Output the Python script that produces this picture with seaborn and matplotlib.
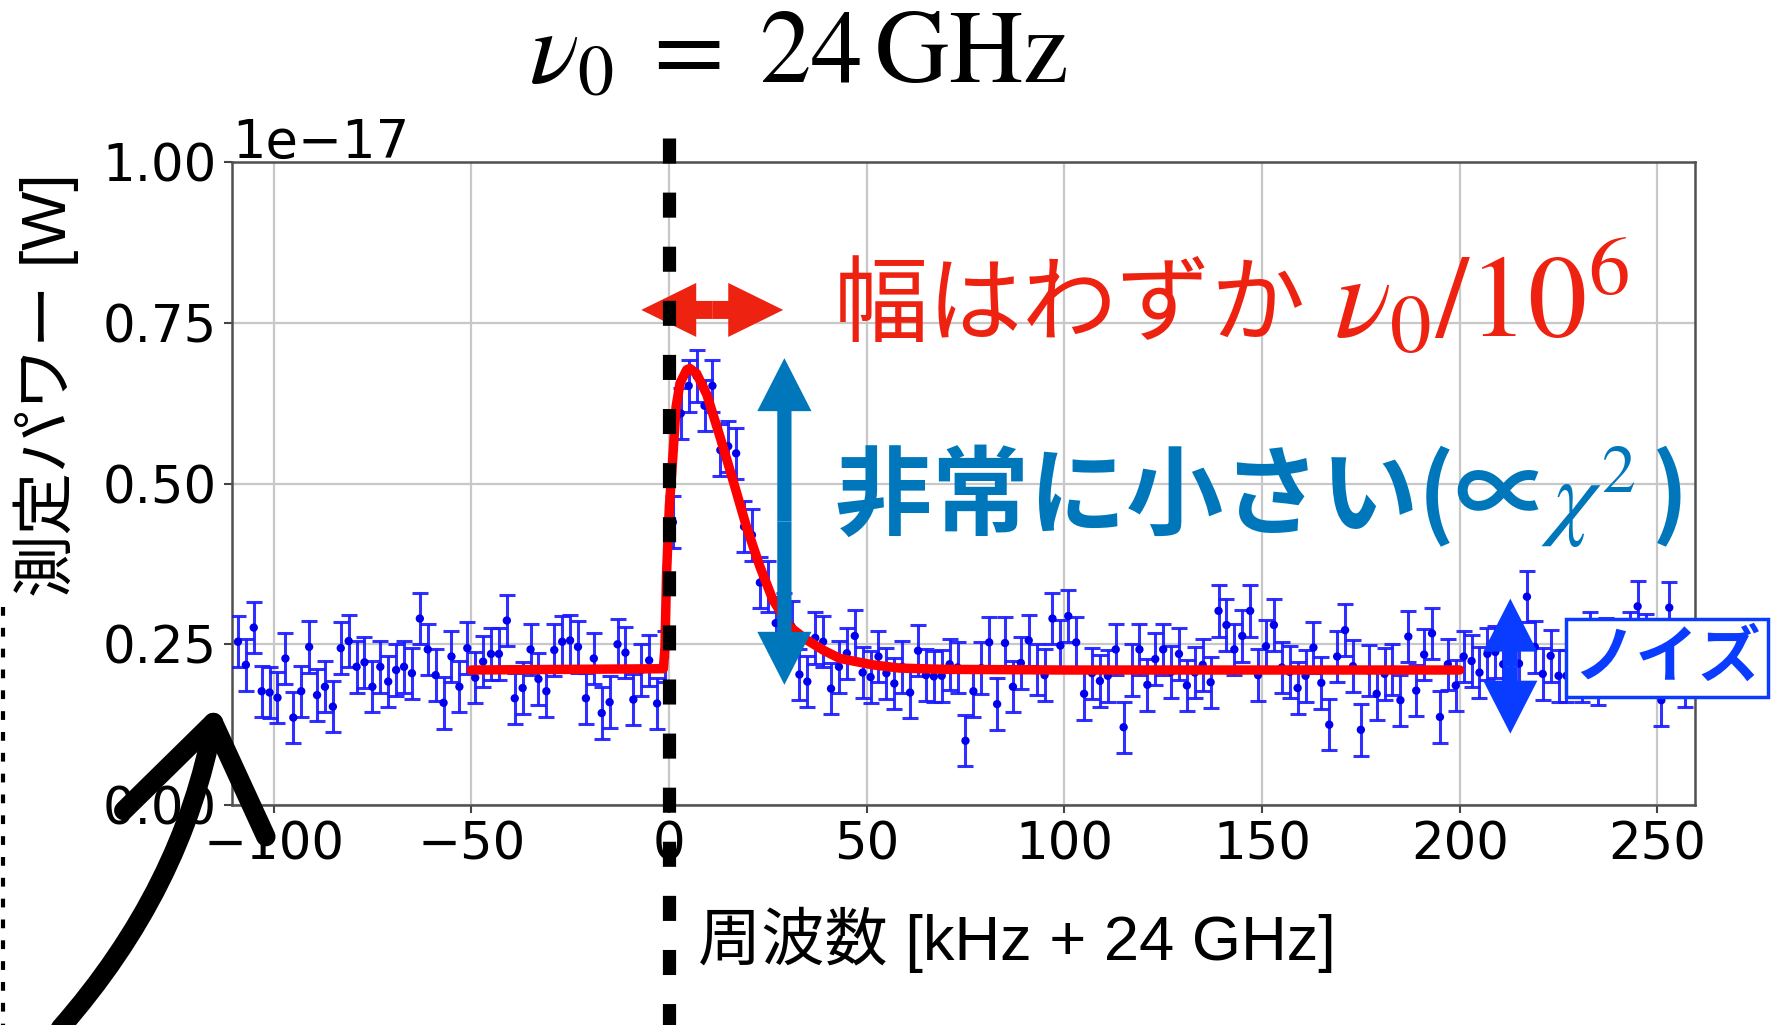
import numpy as np
import pandas as pd
import matplotlib
matplotlib.use("Agg")
import matplotlib.pyplot as plt
import seaborn as sns
from matplotlib.lines import Line2D
from matplotlib.patches import FancyArrowPatch
from matplotlib.transforms import blended_transform_factory

# ---------------- data (power in units of 1e-17 W) ----------------
freq_khz = np.arange(-109, 258, 2)  # measurement grid, kHz offset from 24 GHz

power_left = [0.254, 0.218, 0.276, 0.177, 0.175, 0.167, 0.228, 0.136, 0.177, 0.246,
              0.171, 0.184, 0.153, 0.244, 0.255, 0.215, 0.222, 0.184, 0.215, 0.192,
              0.210, 0.215, 0.205, 0.290, 0.242, 0.202, 0.159, 0.231, 0.184, 0.244,
              0.198, 0.223, 0.235, 0.235, 0.287, 0.166, 0.182, 0.242, 0.196, 0.177,
              0.241, 0.254, 0.256, 0.246, 0.166, 0.228, 0.143, 0.160, 0.250, 0.237,
              0.164, 0.210, 0.225, 0.158, 0.231]
power_peak = [0.440, 0.609, 0.652, 0.667, 0.621, 0.652, 0.552, 0.558, 0.547, 0.433,
              0.420, 0.346, 0.340, 0.283, 0.290, 0.278, 0.203, 0.192, 0.260, 0.254,
              0.181, 0.215, 0.236, 0.263, 0.206, 0.199, 0.231, 0.205, 0.189]
power_mid = [0.215, 0.175, 0.240, 0.202, 0.200, 0.201, 0.219, 0.214, 0.100, 0.177,
             0.213, 0.253, 0.157, 0.252, 0.184, 0.221, 0.256, 0.211, 0.202, 0.290,
             0.248, 0.294, 0.253, 0.173, 0.205, 0.193, 0.201, 0.242, 0.121, 0.210,
             0.242, 0.187, 0.227, 0.242]
power_mid2 = [0.207, 0.235, 0.186, 0.206, 0.218, 0.191, 0.302, 0.280, 0.242, 0.263,
              0.302, 0.202, 0.247, 0.280, 0.214, 0.207, 0.182, 0.201, 0.245, 0.190,
              0.125, 0.231, 0.272, 0.216, 0.117, 0.209, 0.173, 0.204, 0.211, 0.163,
              0.262, 0.178, 0.234, 0.267]
power_right = [0.137, 0.219, 0.186, 0.231, 0.224, 0.206, 0.235, 0.238, 0.219, 0.210,
               0.220, 0.324, 0.246, 0.204, 0.232, 0.201, 0.201, 0.210, 0.200, 0.260,
               0.196, 0.251, 0.210, 0.220, 0.260, 0.309, 0.257, 0.248, 0.163, 0.307,
               0.210, 0.193]
power_err = 0.04

fit_x = [-50, -1.4, -1.0, -0.6, 0.1, 0.7, 1.1, 1.8, 2.8, 4.5, 5.3, 7.0, 9.6, 12.9,
         16.2, 19.6, 23.0, 26.3, 30.6, 34.8, 39.0, 43.2, 51.6, 58.3, 70, 100, 200]
fit_y = [0.210, 0.212, 0.246, 0.360, 0.464, 0.516, 0.552, 0.619, 0.656, 0.677, 0.679,
         0.671, 0.638, 0.573, 0.505, 0.433, 0.371, 0.319, 0.277, 0.257, 0.241, 0.228,
         0.218, 0.213, 0.211, 0.210, 0.210]

x_ticks = [-100, -50, 0, 50, 100, 150, 200, 250]
y_ticks = [0.0, 0.25, 0.50, 0.75, 1.00]
SCALE = 1e-17

RED = "#EE2211"
STEEL = "#0077BB"
NOISE = "#0A3CFF"

# ---------------- style ----------------
sns.set_theme(style="whitegrid")
plt.rcParams["font.family"] = ["DejaVu Sans", "Noto Sans CJK JP"]
plt.rcParams["mathtext.fontset"] = "stix"
plt.rcParams["axes.unicode_minus"] = True

fig = plt.figure(figsize=(17.78, 10.25), dpi=100)
ax = fig.add_axes([0.1305, 0.2146, 0.8228, 0.6273])

power = np.array(power_left + power_peak + power_mid + power_mid2 + power_right)
df = pd.DataFrame({"freq": freq_khz, "power": power * SCALE})

ax.errorbar(df["freq"], df["power"], yerr=power_err * SCALE, fmt="none",
            ecolor="#1A1AFF", elinewidth=2.2, capsize=5.5, capthick=2.2,
            alpha=0.9, zorder=3)
sns.scatterplot(data=df, x="freq", y="power", color="#0000EE", s=36,
                edgecolor="none", zorder=4, ax=ax)
sns.lineplot(x=np.array(fit_x), y=np.array(fit_y) * SCALE, color="red",
             linewidth=6.8, zorder=5, ax=ax)

ax.set_xlim(-110.5, 259.5)
ax.set_ylim(0, 1.0 * SCALE)
ax.set_xticks(x_ticks)
ax.set_yticks(np.array(y_ticks) * SCALE)
ax.set_xlabel("")
ax.set_ylabel("")
ax.tick_params(axis="both", labelsize=37, length=6, width=1.5, color="#444444",
               pad=5, left=True, bottom=True, labelcolor="black")
ax.yaxis.get_offset_text().set_fontsize(38)
ax.grid(True, color="#C8C8C8", linewidth=1.6)
for sp in ax.spines.values():
    sp.set_visible(True)
    sp.set_color("#505050")
    sp.set_linewidth(1.8)

# ---------------- annotations ----------------
# vertical dashed line at nu0
blend = blended_transform_factory(ax.transData, fig.transFigure)
ax.plot([0, 0], [0.8654, 0.0], transform=blend, clip_on=False, color="black",
        linewidth=9.5, linestyle=(0, (1.9, 2.2)), zorder=10)

# red width arrow
ax.arrow(10.95, 0.770 * SCALE, 17.95, 0, width=0.028 * SCALE, head_width=0.084 * SCALE,
         head_length=13.9, length_includes_head=True, color=RED, lw=0, zorder=8)
ax.arrow(10.95, 0.770 * SCALE, -17.95, 0, width=0.028 * SCALE, head_width=0.084 * SCALE,
         head_length=13.9, length_includes_head=True, color=RED, lw=0, zorder=8)

# steel-blue height arrow
ax.arrow(29.2, 0.441 * SCALE, 0, 0.254 * SCALE, width=3.6, head_width=13.7,
         head_length=0.0824 * SCALE, length_includes_head=True, color=STEEL, lw=0, zorder=8)
ax.arrow(29.2, 0.441 * SCALE, 0, -0.254 * SCALE, width=3.6, head_width=13.7,
         head_length=0.0824 * SCALE, length_includes_head=True, color=STEEL, lw=0, zorder=8)

# noise arrow
ax.arrow(212.8, 0.216 * SCALE, 0, 0.105 * SCALE, width=3.8, head_width=13.7,
         head_length=0.0824 * SCALE, length_includes_head=True, color=NOISE, lw=0, zorder=8)
ax.arrow(212.8, 0.216 * SCALE, 0, -0.105 * SCALE, width=3.8, head_width=13.7,
         head_length=0.0824 * SCALE, length_includes_head=True, color=NOISE, lw=0, zorder=8)

# texts
fig.text(0.449, 0.919, r"$\nu_0\;=\;24\,\mathrm{GHz}$", fontsize=74, ha="center",
         va="baseline", color="black")
fig.text(0.4690, 0.6741, "幅はわずか", fontsize=68, color=RED, ha="left",
         va="baseline", family=["Noto Sans CJK JP", "DejaVu Sans"])
fig.text(0.7503, 0.6712, r"$\nu_0/10^6$", fontsize=85, color=RED, ha="left",
         va="baseline")
fig.text(0.469, 0.4859, "非常に小さい(∝$\\chi^2\\,$)", fontsize=70, fontweight="bold",
         color=STEEL, ha="left", va="baseline", family=["Noto Sans CJK JP", "DejaVu Sans"])
fig.text(0.9376, 0.358, "ノイズ", fontsize=45, fontweight="bold", color=NOISE,
         ha="center", va="center", family=["Noto Sans CJK JP", "DejaVu Sans"],
         bbox=dict(boxstyle="square,pad=0.12", fc="white", ec=NOISE, lw=2.5))

fig.text(0.3925, 0.0634, "周波数 [kHz + 24 GHz]", fontsize=45.5, ha="left", va="baseline",
         family=["Liberation Sans", "Noto Sans CJK JP"], color="black")
fig.text(0.0259, 0.624, "測定パワー [W]", fontsize=45, rotation=90, ha="center",
         va="center", family=["Liberation Sans", "Noto Sans CJK JP"], color="black")

# hand-drawn style arrow and dotted guide at the left edge
hand = FancyArrowPatch((0.033, -0.005), (0.122, 0.314), transform=fig.transFigure,
                       connectionstyle="arc3,rad=0.14",
                       arrowstyle="->,head_length=74,head_width=52", mutation_scale=1,
                       color="black", lw=14, capstyle="round", joinstyle="round")
fig.add_artist(hand)
fig.add_artist(Line2D([0.0017, 0.0017], [0.408, 0.0], transform=fig.transFigure,
                      color="black", lw=3, linestyle=(0, (2.1, 2.9))))

fig.savefig("out.png", dpi=100)
